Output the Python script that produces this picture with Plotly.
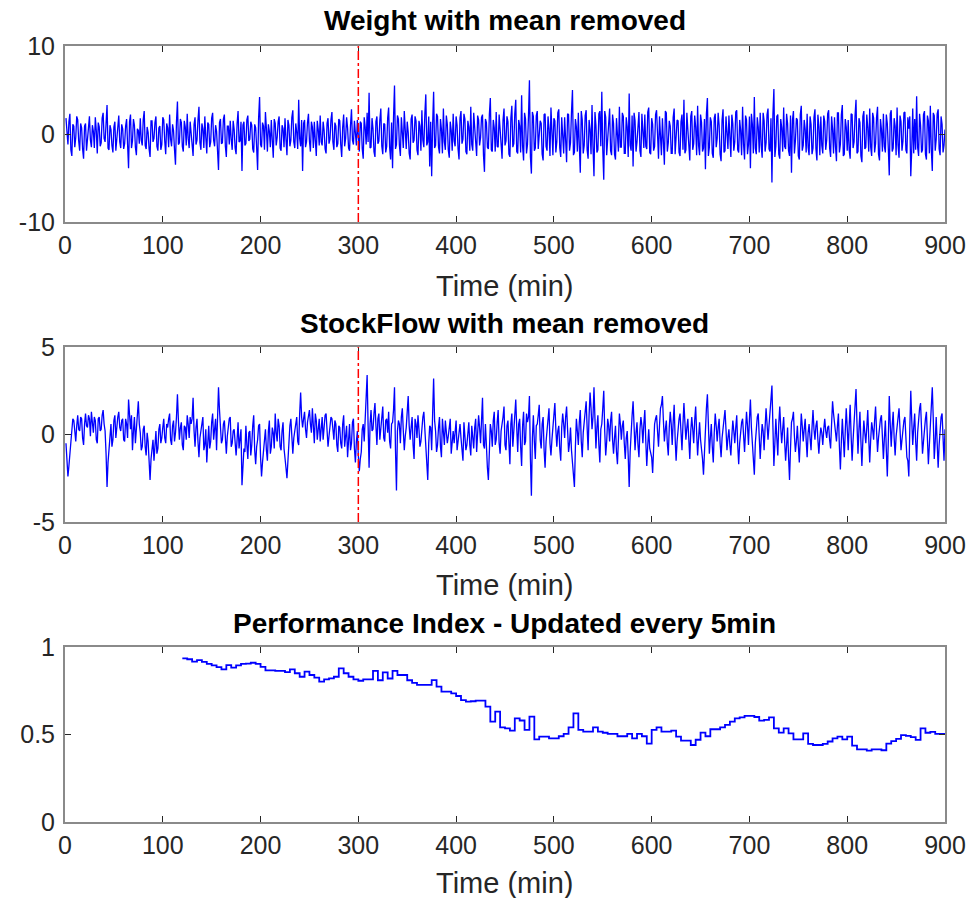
import plotly.graph_objects as go

# ---------------- data ----------------
# Weight with mean removed: odd minutes (1, 3, ..., 899)
weight_odd = [
    1.8, -1.2, 2.3, -2.5, 0.9, -0.4, 1.6, -1.9, 0.7, -2.8,
    1.2, -0.6, 2.0, -1.5, 0.3, 1.9, -2.2, 0.8, -1.0, 2.4,
    -0.9, 3.3, -1.8, 0.5, -2.1, 1.4, -0.3, 2.1, -1.6, 0.6,
    -1.1, 1.7, -3.9, 2.2, -0.8, 1.0, -2.4, 0.4, 1.8, -1.3,
    2.6, -1.7, 0.2, -2.6, 1.5, -0.5, 2.0, -1.9, 0.9, -1.2,
    1.6, -2.3, 0.7, 2.2, -1.4, 0.4, -3.5, 3.7, -1.0, 1.3,
    -2.0, 0.8, 2.3, -1.6, 0.1, -2.5, 1.9, -0.7, 3.1, -1.8,
    0.6, 2.0, -2.2, 1.1, -0.9, 2.4, -1.4, 0.3, -4.1, 1.7,
    -1.0, 2.2, -2.6, 0.9, 1.5, -1.8, 0.5, -2.3, 2.6, -0.8,
    -4.2, 1.4, -1.1, 2.1, -0.6, 1.0, -2.1, 0.7, -4.1, 4.2,
    -1.5, 0.9, 2.5, -2.0, 0.3, 1.6, -2.7, 1.2, -0.4, 2.0,
    -1.9, 0.6, 1.8, -2.4, 1.0, -0.7, 2.7, -1.6, 0.2, 3.9,
    -1.4, -4.2, 1.6, -0.9, 2.3, -2.0, 0.8, 1.4, -2.5, 0.5,
    2.1, -1.3, 0.4, -2.2, 1.8, -0.6, 2.5, -1.8, 0.9, -1.1,
    1.5, -2.6, 2.2, -0.5, 0.7, -1.9, 2.8, -1.2, 0.3, 1.6,
    -2.0, 1.2, -2.8, 0.8, 2.4, 4.7, -1.5, 0.6, -2.6, 2.0,
    -0.8, 2.9, -2.3, 1.1, -1.4, 3.0, -2.9, -3.9, 5.5, -1.2,
    1.7, -2.5, 0.6, 2.6, -1.7, 0.2, -2.9, 2.2, -0.7, 1.5,
    -2.4, 0.9, 2.7, -1.5, 4.5, -0.9, -3.7, -4.8, 4.8, -1.3,
    2.0, -2.2, 0.5, 2.9, -1.8, 1.1, -2.7, 0.4, 2.3, -1.4,
    1.0, -2.9, 2.6, -0.6, 1.7, -2.3, 0.8, 3.1, -1.9, 0.3,
    -2.5, 1.6, -0.4, 2.2, -4.3, 1.3, -1.7, 4.1, -2.0, 0.7,
    2.5, -1.5, 0.2, -2.8, 2.9, -0.8, 1.4, -2.6, 3.2, -1.1,
    3.9, -2.2, 0.9, 4.4, -3.0, 1.7, -1.2, 6.1, -4.5, 2.0,
    -1.6, 2.6, -0.5, 1.2, -3.0, 2.3, -1.9, 0.6, 3.0, -2.4,
    1.5, -0.9, 2.8, -2.6, 0.4, 1.9, -3.2, 2.2, -1.0, 5.0,
    -2.1, 0.8, 2.4, -4.4, 1.6, -1.3, 2.7, -2.8, 0.5, 3.3,
    -4.8, 1.0, -1.8, 2.6, 4.8, -5.2, 1.9, -0.7, 2.9, -2.4,
    1.2, -2.9, 0.4, 3.1, -1.5, 2.0, -2.2, 0.8, 4.6, -1.9,
    -3.7, 1.5, -0.9, 2.5, -2.6, 0.6, 2.2, -1.7, 3.0, -2.3,
    1.1, -1.4, 2.7, -2.8, 0.3, 1.8, -3.5, 2.4, -1.0, 0.9,
    -2.2, 2.9, -0.6, 1.5, -2.5, 2.2, 3.9, -1.8, 0.5, -3.0,
    2.6, -1.1, 0.8, 3.2, -2.4, 1.3, -1.6, -4.0, 4.1, -1.5,
    1.4, -2.7, 2.3, -0.5, 1.0, -3.1, 2.8, -1.9, 0.6, 2.1,
    -2.6, 1.2, -0.9, 2.7, -2.1, 0.4, 3.1, -2.9, 1.6, -1.2,
    -3.9, 1.1, 4.2, -2.3, 0.8, 2.4, -2.7, 1.5, -1.0, 2.9,
    -2.0, -5.5, 5.1, -1.4, 2.2, -2.8, 0.7, 3.0, -1.7, 1.2,
    -2.5, -4.4, 2.6, -0.8, 1.6, -2.9, 3.2, -1.3, 0.5, 2.3,
    -2.4, 1.1, -1.6, 2.8, -3.0, 0.9, 2.0, -2.2, 1.4, -0.7,
    2.7, -2.6, 0.6, 1.9, -3.1, 2.4, -1.2, 3.3, -2.3, 0.8,
    1.6, -2.8, 2.2, -0.9, 3.9, -2.0, 1.3, -3.2, 2.6, -1.5,
    0.7, 2.9, -2.5, 1.8, -1.1, 3.1, -3.0, 0.5, 2.3, -2.1,
    1.2, -4.7, 2.7, -1.6, 0.9, 3.0, -2.7, 1.4, -0.8, 2.5,
    -2.2, 0.6, -4.8, 2.9, 1.7, 4.3, -2.5, 1.0, -1.8, 2.6,
    -2.9, 1.5, 3.2, -4.2, 2.1, -0.6, 2.8, -2.4, 1.1, -1.3,
]
# Weight with mean removed: even minutes (2, 4, ..., 900)
weight_even = [
    -0.6, 1.4, -1.8, 1.1, -1.5, 2.0, -0.8, 1.2, -1.7, 0.9,
    -1.9, 1.5, -0.7, 1.0, -1.6, 0.4, 1.3, -1.4, 1.8, -0.5,
    1.2, -1.6, 1.0, -1.3, 0.8, -1.9, 1.5, -0.9, 1.1, -1.7,
    0.9, -1.2, 1.4, -1.6, 1.7, -1.5, 0.6, -1.1, -0.7, 1.6,
    -1.3, 0.8, -1.7, 1.5, -0.9, 1.3, -1.4, 0.7, -1.8, 1.9,
    -0.8, 1.2, -1.5, -0.6, 1.1, -1.8, 1.4, -1.2, 1.7, -1.4,
    1.5, -1.3, -0.5, 1.4, -1.7, 1.1, -1.2, 1.6, -1.0, 1.2,
    -1.6, -0.4, 1.3, -1.5, 1.8, -0.7, 1.0, -1.9, 1.3, -1.1,
    1.7, -1.4, 0.9, -1.2, -0.6, 1.5, -1.6, 1.2, -0.9, 1.4,
    1.0, -1.3, 1.6, -0.8, 1.4, -1.7, 1.1, -1.5, 1.8, -1.2,
    1.3, -1.8, 0.6, 1.1, -1.5, -0.7, 1.7, -1.3, 1.4, -1.6,
    1.0, -1.5, -0.6, 1.6, -1.4, 1.9, -0.9, 1.2, -1.7, -0.5,
    1.6, 1.2, -1.5, 1.3, -0.8, 1.4, -1.6, -0.7, 1.5, -1.3,
    -0.9, 1.4, -1.7, 1.2, -1.1, 1.6, -0.9, 1.3, -1.5, 1.7,
    -1.2, 0.8, -1.4, 1.9, -1.6, 1.0, -0.7, 1.5, -1.3, -0.8,
    1.4, -1.7, 1.9, -1.2, -0.9, -1.6, 1.8, -2.0, 1.4, -1.1,
    1.6, -1.4, 1.2, -2.1, 1.8, -1.5, 1.3, 1.9, -1.7, 2.1,
    -1.3, 1.9, -1.6, -0.8, 1.4, -2.2, 1.7, -1.0, 2.0, -1.8,
    1.5, -1.9, -0.7, 2.2, -1.3, 2.0, 1.4, 1.1, -1.6, 2.3,
    -1.5, 1.7, -2.2, -0.9, 2.1, -1.8, 1.4, -1.9, -0.8, 2.0,
    -1.7, 1.8, -1.1, 2.3, -2.0, 1.5, -1.9, -1.2, 2.4, -1.6,
    2.1, -1.3, 1.9, -2.4, 1.7, -1.5, 2.2, -1.8, 1.6, -2.0,
    -1.4, 2.2, -1.9, 1.6, -1.3, 2.0, -2.3, 1.8, -1.5, 2.3,
    -2.0, 1.6, -2.1, -1.4, 2.4, -2.2, 2.0, -2.6, 2.5, -1.9,
    2.1, -1.7, 1.5, -2.3, 2.2, -1.4, 2.0, -2.5, -1.2, 1.8,
    -2.1, 2.4, -1.6, 1.9, -2.2, -1.3, 2.3, -1.9, 2.5, -2.4,
    1.7, -2.0, -1.3, 2.6, -2.2, 2.1, -1.8, 1.6, -2.3, -1.5,
    2.5, -2.1, 2.3, -1.4, -1.8, 2.6, -2.4, 2.0, -1.9, 2.2,
    -2.3, 1.8, -2.0, -1.5, 2.4, -2.2, 1.9, -2.6, -1.3, 2.1,
    2.4, -2.0, 1.7, -1.9, 2.3, -1.6, -1.4, 2.5, -2.1, 1.8,
    -1.9, 2.2, -1.7, 2.0, -2.4, -1.1, 2.6, -2.0, 1.5, -2.2,
    1.9, -2.3, 1.6, -2.1, 1.4, -1.8, -2.2, 2.4, -1.6, 2.0,
    -1.8, 2.1, -2.4, -1.3, 2.2, -2.0, 1.7, 2.3, -2.5, 1.9,
    -2.2, 1.8, -1.5, 2.4, -2.3, 1.6, -2.1, 2.0, -1.7, -1.4,
    2.2, -1.9, 2.5, -1.8, 1.6, -2.4, -1.2, 2.1, -2.3, 2.0,
    2.3, -2.2, -1.6, 1.9, -2.1, -1.3, 2.4, -2.0, 2.2, -1.7,
    1.8, 2.2, -2.6, 2.0, -2.3, 1.7, -2.0, -1.4, 2.3, -1.9,
    2.1, 1.6, -2.2, 1.8, -2.5, 2.2, -1.9, 1.6, -2.1, -1.5,
    2.0, -2.3, 1.9, -1.7, 2.2, -2.4, -1.3, 2.1, -1.8, 2.3,
    -1.6, 2.0, -2.2, -1.4, 2.4, -2.1, 2.2, -2.5, 1.7, -1.9,
    -1.8, 2.3, -1.6, 2.1, -2.2, 1.8, -2.5, 2.0, -1.7, 2.2,
    -2.0, -1.5, 2.4, -2.1, 1.9, -2.3, 1.7, -2.0, -1.4, 2.2,
    -1.6, 2.3, -2.0, 1.8, -2.4, -1.3, 2.1, -1.9, 2.4, -1.8,
    1.9, 2.0, -1.7, -2.2, -1.8, -1.5, 2.3, -2.1, 2.2, -2.3,
    2.1, -2.2, -1.8, 2.4, -1.9, 2.3, -1.7, 2.0, -2.1, 0.5,
]

# StockFlow with mean removed: odd minutes (1, 3, ..., 899)
stockflow_odd = [
    -0.5, -2.4, -1.2, 0.3, 0.8, -0.4, 1.1, 0.2, 0.9, -0.6,
    1.2, 0.4, 0.9, 1.3, 0.1, 0.8, -0.5, 1.0, 0.3, 1.4,
    0.2, -3.0, -0.8, 0.6, -0.3, 1.1, 0.5, 1.3, 0.2, 0.9,
    -0.4, 0.6, 2.0, 0.3, -0.9, 1.0, 0.4, 1.9, 0.1, -0.7,
    0.5, -1.2, -0.4, -2.6, -0.9, -1.5, 0.2, -0.8, 0.6, -0.2,
    0.9, -0.5, 0.4, 1.2, -0.6, 0.8, 0.1, 2.3, -0.3, 0.7,
    -0.9, 0.4, 1.1, -0.2, 0.6, 2.1, -0.7, 0.9, -1.3, 0.3,
    1.0, -0.6, -1.6, 0.5, -0.4, 1.2, 0.2, -0.9, 2.7, 0.6,
    -0.3, 0.8, -1.1, 0.4, 1.0, -0.5, 0.3, -1.2, 0.7, -0.4,
    -2.9, -0.8, 0.5, -1.4, 0.2, -0.6, 1.1, -1.7, -0.3, 0.6,
    -2.4, -1.0, 0.3, -1.5, 0.8, -0.7, 0.1, 1.2, -0.4, 0.5,
    -0.9, 0.7, -1.6, -2.5, -0.4, 0.9, -1.1, 0.3, 1.0, -0.6,
    2.4, 0.4, 1.3, -0.2, 1.1, 0.6, 1.5, -0.5, 0.8, 0.2,
    -0.4, 1.0, 0.3, 1.2, -0.7, 0.5, 0.9, -0.3, 0.6, -1.0,
    0.4, -0.8, 1.1, -0.2, -1.3, 0.6, -0.5, 0.9, -1.6, 0.2,
    -2.1, -1.0, 0.6, 0.9, 3.4, -1.9, 1.4, 0.3, 1.8, -0.6,
    1.2, 0.5, 1.6, -0.4, 0.9, 1.3, -0.8, 0.7, 2.7, -3.2,
    0.8, -0.5, 1.5, -0.9, 0.4, 2.2, -0.3, 1.0, -1.4, 0.6,
    1.1, -0.7, 0.4, 1.3, -1.0, -2.6, 0.5, -0.9, 3.2, 0.2,
    -0.6, 1.0, -1.3, 0.3, 0.8, -0.5, 0.6, -1.1, 0.2, 0.5,
    -0.9, 0.4, -0.2, -1.5, 0.1, -0.6, 0.7, -1.2, -0.3, 0.4,
    -1.0, 1.1, -0.5, 2.1, -0.8, -1.4, -2.6, 0.6, -0.7, 1.3,
    -0.3, 1.4, -1.1, 0.5, 1.6, -0.9, 0.8, -1.7, 1.2, 0.3,
    2.0, -1.0, 0.9, -1.8, 1.3, -0.4, 0.7, 2.2, -3.5, 1.1,
    -1.4, 0.6, 1.7, -0.8, 1.0, -1.9, 0.4, 1.5, -1.2, 0.3,
    1.8, -0.7, 0.5, -1.5, 1.2, -0.2, 1.6, -1.0, 0.4, -1.8,
    -3.0, 0.9, -0.6, 1.4, -1.3, 0.8, 1.9, -0.9, 2.4, 0.3,
    2.7, -0.8, 1.1, -1.6, 0.6, 2.5, -1.2, 0.9, -0.4, 1.3,
    -1.1, 0.5, -1.7, 1.2, -0.3, 0.8, -1.4, 0.2, -3.0, 0.6,
    1.9, -0.9, 0.7, -1.3, 1.0, -0.5, 1.4, -1.8, 0.3, -1.0,
    -2.2, 0.6, 1.1, -0.7, 1.5, 2.2, -0.4, 0.8, -1.2, 1.3,
    -0.6, 1.7, -1.5, 0.4, 1.2, -0.9, 1.8, -0.3, 0.9, -1.4,
    1.0, -0.5, 1.6, -1.2, 0.7, -0.8, -2.3, 0.4, 2.3, -1.1,
    0.6, -1.6, 1.2, -0.4, 0.9, -1.3, 0.5, 1.4, -0.9, 0.3,
    -1.2, 0.8, -0.5, 1.1, -1.7, 0.2, 0.9, -1.0, 1.3, -0.6,
    2.0, -0.8, -2.3, 0.7, 1.2, -1.4, 0.6, -0.9, 1.5, -0.3,
    1.1, 2.8, -1.8, 0.9, -1.2, 1.6, -0.5, 1.0, -1.5, 0.4,
    -2.6, 0.7, 1.3, -1.0, 0.5, -1.6, 1.2, -0.4, 0.9, -1.3,
    0.6, -0.9, 1.4, -0.3, 0.8, -1.1, 0.4, -0.6, 0.9, -0.2,
    0.5, -0.8, 1.9, 0.7, -0.4, 1.2, -2.0, 0.9, -1.3, 1.5,
    -0.9, 1.7, -1.5, 0.6, 2.6, -1.1, 1.3, -1.8, 0.8, -0.5,
    1.4, -1.6, 0.7, -0.3, 1.6, -1.0, 0.5, 1.1, -1.4, 0.8,
    -2.4, 2.2, -0.7, 1.3, -1.2, 0.6, 1.5, -0.9, 0.4, 1.0,
    -1.3, -2.4, 2.5, -0.6, 1.2, -1.5, 0.9, 1.8, -1.1, 0.5,
    1.3, -1.7, 0.8, 2.7, -1.4, 1.0, -1.9, 0.6, 1.2, -1.5,
]
# StockFlow with mean removed: even minutes (2, 4, ..., 900)
stockflow_even = [
    -1.6, -1.8, -0.4, 0.9, 0.1, 0.5, 0.3, 1.0, -0.2, 0.6,
    0.5, 1.1, -0.1, 0.7, 1.0, -0.3, 0.9, 0.2, 1.1, 0.6,
    -1.1, -1.6, 0.4, -0.7, 0.8, -0.2, 1.0, 0.4, 0.8, -0.3,
    0.9, -0.2, 0.7, 1.1, 0.2, -0.5, 1.2, 0.6, -0.9, 0.3,
    -0.7, 0.1, -1.5, -1.4, -0.3, -0.6, -1.1, 0.3, -0.5, 0.4,
    -0.2, 0.6, 0.9, -0.3, 0.5, -0.4, 1.0, 0.8, 0.4, -0.6,
    0.5, -0.3, 0.6, 1.0, 0.9, 0.2, 0.4, -0.4, -0.2, 0.8,
    -0.9, 0.3, -0.5, -0.8, 0.7, -0.3, 0.9, 0.8, 1.4, -0.5,
    0.6, -0.2, -0.1, 0.9, -0.7, 0.2, -0.6, -0.3, -0.8, 0.3,
    -1.5, -1.0, -0.6, 0.1, -1.2, 0.5, -0.9, -0.7, 0.5, -1.3,
    -1.6, -0.3, -0.9, 0.2, -1.1, 0.4, -0.8, 0.1, 0.9, -0.7,
    0.2, -0.8, -1.9, -1.2, 0.5, -0.6, -0.2, 0.8, -0.4, 1.2,
    1.0, 0.9, 0.3, 0.7, 1.4, 0.1, 0.4, 1.2, -0.3, 0.9,
    0.5, -0.3, 1.1, 0.2, -0.1, 1.0, 0.2, 0.8, -0.6, 0.5,
    -0.5, 0.6, -0.7, 0.5, -0.4, -0.9, 0.7, -0.8, -0.4, -1.2,
    -1.4, 0.3, -0.4, 1.6, 0.5, 0.6, 0.2, 1.2, 0.5, 0.9,
    -0.3, 1.0, -0.2, 0.8, 0.1, -0.4, 0.6, 1.4, -0.9, 0.2,
    0.6, 1.0, 0.2, -0.1, 1.3, 0.5, 0.4, -0.6, 0.9, -0.2,
    0.3, -0.4, 1.0, 0.2, -1.7, -0.5, 0.4, 1.2, 0.8, -1.0,
    0.4, -0.7, 0.9, -0.6, 0.2, -0.1, 0.9, -0.4, -0.5, 0.8,
    -0.3, 0.6, -1.1, 0.7, -0.9, 0.3, -0.6, 0.5, -0.8, 0.9,
    -0.2, 0.4, 0.8, -0.6, 0.6, -1.9, -0.4, 0.2, 0.8, -0.6,
    0.7, -0.5, 0.2, 1.0, -0.6, 0.5, -1.0, 0.6, -0.7, 1.1,
    0.4, 0.6, -0.7, 0.5, -0.6, 1.2, 1.0, -1.4, -0.2, -0.4,
    0.5, 1.1, -0.3, 0.6, -0.9, -0.4, 1.0, -0.5, -0.3, 1.0,
    0.3, 0.2, -0.8, 0.4, 0.6, 1.0, 0.3, -0.5, -0.9, -2.1,
    -0.7, 0.2, 0.7, -0.4, 0.1, 1.3, 0.4, 1.1, 1.5, 1.0,
    0.9, 0.4, -0.6, 0.3, 1.5, 0.2, -0.4, 0.5, 0.8, -0.3,
    -0.2, -1.0, -0.3, 0.6, 0.5, -0.5, -0.2, -1.2, -1.0, 1.1,
    0.4, 0.1, -0.6, 0.3, 0.5, 0.6, -0.4, -0.6, -0.8, -1.3,
    -0.6, 0.9, 0.2, 0.5, 1.7, 0.8, 0.3, -0.5, 0.4, 0.6,
    0.7, -0.2, -0.4, 0.9, 0.3, 0.6, 0.7, 0.4, -0.3, 0.2,
    0.3, 0.8, 0.1, -0.2, -0.3, -1.4, -0.8, 1.5, 0.5, -0.2,
    -0.7, 0.1, 0.5, 0.4, -0.5, -0.2, 1.0, 0.3, -0.2, -0.6,
    -0.1, 0.2, 0.4, -0.6, -0.5, 0.7, -0.3, 0.2, 0.5, 0.9,
    0.4, -1.6, -0.5, 1.0, -0.3, -0.3, 0.2, 0.4, 0.6, 0.5,
    2.0, -0.4, -0.5, -0.2, 0.6, 0.4, 0.3, -0.4, -0.6, -1.3,
    -0.8, 0.9, -0.1, -0.4, -0.6, -0.2, 0.5, 0.3, -0.3, 0.1,
    -0.2, 0.4, 0.3, 0.5, -0.3, -0.2, 0.1, 0.3, 0.2, 0.4,
    -0.3, 0.6, 1.2, 0.2, 0.5, -0.7, -0.4, -0.2, 0.2, 0.4,
    0.5, -0.1, -0.3, 1.5, 0.6, 0.3, -0.4, -0.3, 0.1, 0.4,
    -0.2, -0.3, 0.3, 0.8, 0.2, -0.2, 0.9, -0.3, -0.2, -0.9,
    -0.4, 0.6, 0.5, -0.2, -0.1, 1.0, 0.3, -0.3, 0.8, -0.4,
    -1.5, 0.3, 0.8, 0.4, -0.4, 0.1, 1.5, 0.2, -0.4, 0.9,
    -0.3, -0.6, 1.6, 0.9, -0.4, -0.5, -0.6, 1.0, -0.2, 0.3,
]

# Performance index, one value per 5-minute update starting at 120 min
perf_index = [
    0.935, 0.93, 0.916, 0.925, 0.915, 0.903, 0.895, 0.885, 0.872, 0.897,
    0.882, 0.895, 0.903, 0.905, 0.91, 0.903, 0.886, 0.867, 0.867, 0.863,
    0.863, 0.857, 0.872, 0.85, 0.83, 0.859, 0.84, 0.825, 0.802, 0.815,
    0.821, 0.83, 0.878, 0.85, 0.83, 0.815, 0.807, 0.815, 0.815, 0.864,
    0.81, 0.855, 0.82, 0.864, 0.84, 0.84, 0.81, 0.795, 0.783, 0.783,
    0.783, 0.811, 0.773, 0.745, 0.745, 0.735, 0.72, 0.697, 0.688, 0.69,
    0.693, 0.693, 0.659, 0.574, 0.631, 0.541, 0.535, 0.522, 0.592, 0.58,
    0.526, 0.602, 0.472, 0.488, 0.488, 0.478, 0.478, 0.49, 0.503, 0.541,
    0.621, 0.526, 0.516, 0.516, 0.541, 0.516, 0.51, 0.503, 0.503, 0.49,
    0.49, 0.503, 0.478, 0.503, 0.49, 0.448, 0.526, 0.541, 0.516, 0.516,
    0.522, 0.488, 0.465, 0.465, 0.44, 0.47, 0.511, 0.49, 0.53, 0.53,
    0.541, 0.555, 0.573, 0.592, 0.598, 0.606, 0.606, 0.6, 0.579, 0.583,
    0.598, 0.535, 0.511, 0.535, 0.507, 0.472, 0.472, 0.507, 0.446, 0.44,
    0.44, 0.446, 0.46, 0.478, 0.488, 0.472, 0.488, 0.436, 0.415, 0.415,
    0.408, 0.415, 0.415, 0.41, 0.448, 0.462, 0.475, 0.497, 0.492, 0.485,
    0.469, 0.535, 0.51, 0.515, 0.503, 0.503,
]

perf_start = 120       # first performance-index update (min)
perf_step = 5          # performance index update period (min)
change_time = 300      # red dash-dot marker (min)
t_end = 900

x_ticks = [0, 100, 200, 300, 400, 500, 600, 700, 800, 900]
y1_ticks = [-10, 0, 10]
y2_ticks = [-5, 0, 5]
y3_ticks = [0, 0.5, 1]
y1_labels = ["-10", "0", "10"]
y2_labels = ["-5", "0", "5"]
y3_labels = ["0", "0.5", "1"]

titles = ["Weight with mean removed", "StockFlow with mean removed",
          "Performance Index - Updated every 5min"]
xlabel = "Time (min)"

# ---------------- figure ----------------
def interleave(odd, even):
    out = []
    for a, b in zip(odd, even):
        out.extend([a, b])
    return out

weight = interleave(weight_odd, weight_even)
stockflow = interleave(stockflow_odd, stockflow_even)
t_w = list(range(1, len(weight) + 1))
t_s = list(range(1, len(stockflow) + 1))
t_perf = [perf_start + perf_step * i for i in range(len(perf_index))] + [t_end]
y_perf = perf_index + [perf_index[-1]]

W, H = 980, 898
x0, x1 = 65, 945
panels = [(46, 222), (347, 522), (647, 822)]

def ydom(top, bot):
    return [1 - bot / H, 1 - top / H]

fig = go.Figure()
blue = "#0000FF"
fig.add_trace(go.Scatter(x=t_w, y=weight, mode="lines",
                         line=dict(color=blue, width=1.3), xaxis="x", yaxis="y",
                         showlegend=False))
fig.add_trace(go.Scatter(x=t_s, y=stockflow, mode="lines",
                         line=dict(color=blue, width=1.3), xaxis="x2", yaxis="y2",
                         showlegend=False))
fig.add_trace(go.Scatter(x=t_perf, y=y_perf, mode="lines", line_shape="hv",
                         line=dict(color=blue, width=1.8), xaxis="x3", yaxis="y3",
                         showlegend=False))

FONT = "Liberation Sans, Arial, sans-serif"
tickfont = dict(family=FONT, size=25, color="#262626")
common_axis = dict(showline=True, linecolor="#8a8a8a", linewidth=2, mirror="ticks",
                   ticks="inside", ticklen=6, tickwidth=1.2, tickcolor="#262626",
                   showgrid=False, zeroline=False, tickfont=tickfont, automargin=False)

xdom = [x0 / W, x1 / W]
layout = dict(
    width=W, height=H, margin=dict(l=0, r=0, t=0, b=0),
    paper_bgcolor="white", plot_bgcolor="white", showlegend=False,
)
for k, (top, bot), yt, yl in zip(["", "2", "3"], panels,
                                 [y1_ticks, y2_ticks, y3_ticks],
                                 [y1_labels, y2_labels, y3_labels]):
    layout["xaxis" + k] = dict(common_axis, domain=xdom, range=[0, t_end],
                               tickvals=x_ticks, anchor="y" + k)
    layout["yaxis" + k] = dict(common_axis, domain=ydom(top, bot),
                               range=[yt[0], yt[-1]], tickvals=yt, ticktext=yl,
                               anchor="x" + k, ticklabelstandoff=3)
fig.update_layout(**layout)

# red dash-dot change marker on the first two panels
for k in ["", "2"]:
    fig.add_shape(type="line", x0=change_time, x1=change_time, y0=0, y1=1,
                  xref="x" + k, yref=("y" + k) + " domain",
                  line=dict(color="red", width=1.5, dash="dashdot"))

xc = (x0 + x1) / 2 / W
title_y = [20, 323, 623]
label_y = [286, 585, 883]
for ttl, ty, ly in zip(titles, title_y, label_y):
    fig.add_annotation(text="<b>" + ttl + "</b>", x=xc, y=1 - ty / H, xref="paper",
                       yref="paper", showarrow=False, xanchor="center", yanchor="middle",
                       font=dict(family=FONT, size=28, color="black"))
    fig.add_annotation(text=xlabel, x=xc, y=1 - ly / H, xref="paper", yref="paper",
                       showarrow=False, xanchor="center", yanchor="middle",
                       font=dict(family=FONT, size=29, color="#262626"))

fig.write_html("out.html")
